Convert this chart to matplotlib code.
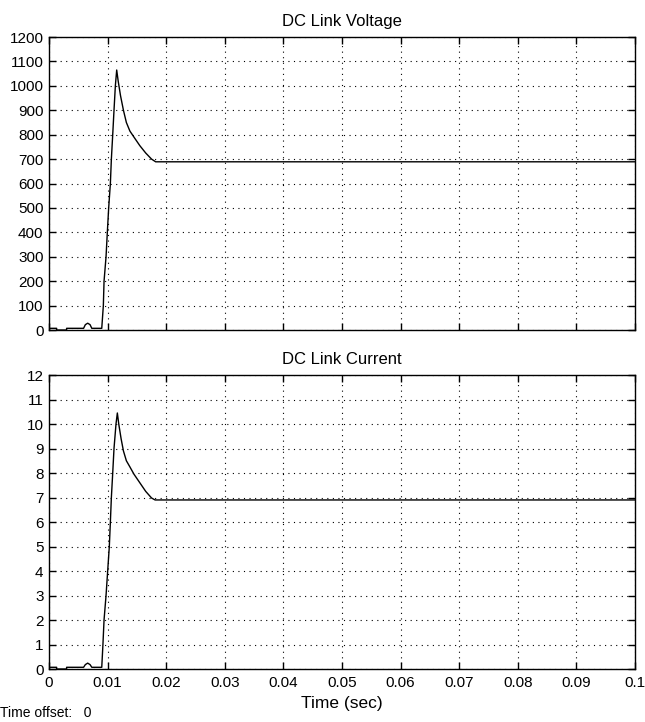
import numpy as np
import matplotlib
matplotlib.use("Agg")
import matplotlib.pyplot as plt

plt.rcParams['font.family'] = ['Liberation Sans', 'DejaVu Sans']

# DC link voltage trace (time in s, volts)
t_volt = [0, 0.0013, 0.0013, 0.003, 0.003, 0.0059, 0.0062, 0.0066, 0.0070, 0.0073,
          0.0090, 0.00927, 0.00939, 0.00973, 0.00995, 0.01018, 0.01047, 0.01064,
          0.01087, 0.01109, 0.01132, 0.01155, 0.0118, 0.0122, 0.0127, 0.0132,
          0.0138, 0.0145, 0.0155, 0.0165, 0.0175, 0.0182, 0.1]
v_volt = [7, 7, 0, 0, 7, 7, 22, 28, 22, 7,
          7, 100, 200, 300, 400, 500, 600, 700,
          800, 900, 1000, 1065, 1020, 960, 900, 850,
          815, 790, 755, 725, 700, 689, 689]

# DC link current trace (time in s, amps)
t_curr = [0, 0.0013, 0.0013, 0.003, 0.003, 0.0059, 0.0062, 0.0066, 0.0070, 0.0073,
          0.0090, 0.0092, 0.00939, 0.00973, 0.01001, 0.01029, 0.01047, 0.01064,
          0.01087, 0.01109, 0.01143, 0.01166, 0.0119, 0.0123, 0.0127, 0.0132,
          0.0138, 0.0145, 0.0155, 0.0165, 0.0175, 0.0181, 0.1]
i_curr = [0.07, 0.07, 0, 0, 0.07, 0.07, 0.18, 0.24, 0.18, 0.07,
          0.07, 1.0, 2.0, 3.0, 4.0, 5.0, 6.0, 7.0,
          8.0, 9.0, 10.0, 10.45, 10.0, 9.4, 8.9, 8.5,
          8.25, 7.95, 7.6, 7.25, 6.98, 6.9, 6.9]

x_ticks = np.round(np.arange(0, 0.1001, 0.01), 2)
x_labels = ['0'] + ['%g' % v for v in x_ticks[1:]]

fig = plt.figure(figsize=(6.45, 7.22), dpi=100)
ax1 = fig.add_axes([0.076, 0.5429, 0.9085, 0.4058])
ax2 = fig.add_axes([0.076, 0.0734, 0.9085, 0.4072])

def style(ax, yticks):
    ax.set_xlim(0, 0.1)
    ax.set_xticks(x_ticks)
    ax.set_yticks(yticks)
    ax.set_ylim(yticks[0], yticks[-1])
    ax.grid(True, color='black', linestyle=(0, (1, 4)), linewidth=0.8)
    ax.tick_params(direction='in', top=True, right=True, length=5, width=1,
                   labelsize=11)
    ax.tick_params(axis='y', pad=4)
    ax.tick_params(axis='x', pad=5)
    for s in ax.spines.values():
        s.set_linewidth(1)

ax1.plot(t_volt, v_volt, color='black', linewidth=1)
style(ax1, np.arange(0, 1201, 100))
ax1.set_xticklabels([])
ax1.set_title('DC Link Voltage', fontsize=12, pad=8)

ax2.plot(t_curr, i_curr, color='black', linewidth=1)
style(ax2, np.arange(0, 13, 1))
ax2.set_xticklabels(x_labels)
ax2.set_title('DC Link Current', fontsize=12, pad=8)
ax2.set_xlabel('Time (sec)', fontsize=12.5, labelpad=4)

fig.text(0.0, 2 / 722, 'Time offset:   0', fontsize=10, ha='left', va='bottom')

fig.savefig('out.png', dpi=100)
